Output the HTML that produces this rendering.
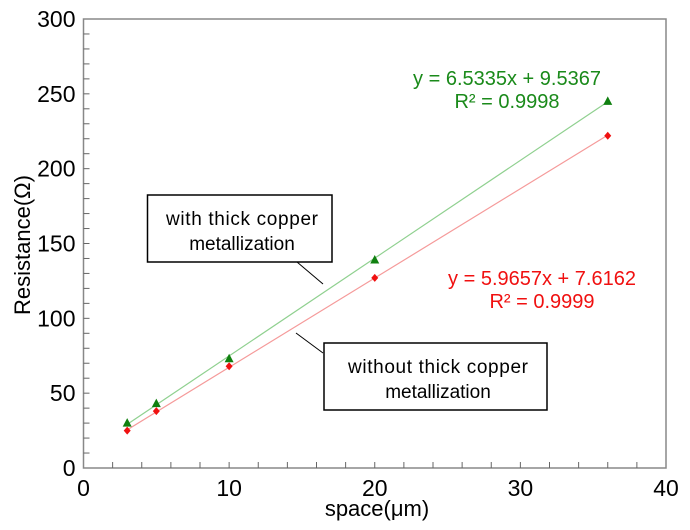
<!DOCTYPE html>
<html><head><meta charset="utf-8"><style>
body{margin:0;background:#fff}
svg{font-family:"Liberation Sans",Arial,sans-serif}
</style></head><body>
<svg id="chart" width="690" height="525">
<g id="axes"></g><g id="marks"></g>
<rect x="147.5" y="195" width="184.5" height="67" fill="#fff" stroke="#000" stroke-width="1.5"/>
<text x="242" y="225" font-size="19" text-anchor="middle" textLength="152">with thick copper</text>
<text x="242" y="250" font-size="19" text-anchor="middle">metallization</text>
<line x1="297" y1="262" x2="323" y2="284" stroke="#000"/>
<rect x="324" y="343" width="223" height="67" fill="#fff" stroke="#000" stroke-width="1.5"/>
<text x="438" y="373" font-size="19" text-anchor="middle" textLength="180">without thick copper</text>
<text x="438" y="398" font-size="19" text-anchor="middle">metallization</text>
<line x1="296" y1="333" x2="323" y2="353" stroke="#000"/>
<text x="507" y="85" font-size="20" fill="#1a8a1a" text-anchor="middle">y = 6.5335x + 9.5367</text>
<text x="507" y="108" font-size="20" fill="#1a8a1a" text-anchor="middle">R² = 0.9998</text>
<text x="542" y="285" font-size="20" fill="#f01010" text-anchor="middle">y = 5.9657x + 7.6162</text>
<text x="542" y="308" font-size="20" fill="#f01010" text-anchor="middle">R² = 0.9999</text>
<text x="377" y="516" font-size="22" text-anchor="middle">space(μm)</text>
<text transform="translate(30,245) rotate(-90)" font-size="22" text-anchor="middle">Resistance(Ω)</text>
</svg>
<script>
const xs=[3,5,10,20,36];
const withCu=[30,43,73,139,245];
const withoutCu=[25,38,68,127,222];
const fitWith=[6.5335,9.5367];
const fitWithout=[5.9657,7.6162];
const xTicks=[0,10,20,30,40];
const yTicks=[0,50,100,150,200,250,300];
const L=83.5,R=666,T=19,B=468;
const X=v=>L+(v/40)*(R-L), Y=v=>B-(v/300)*(B-T);
const NS="http://www.w3.org/2000/svg";
const ax=document.getElementById('axes'),mk=document.getElementById('marks');
function el(p,t,a){const e=document.createElementNS(NS,t);for(const k in a)e.setAttribute(k,a[k]);p.appendChild(e);return e;}
const fr=el(ax,'rect',{x:L,y:T,width:R-L,height:B-T,fill:'none',stroke:'#888','stroke-width':1.5});


for(let v=2;v<40;v+=2){const l=el(ax,'line',{x1:X(v),x2:X(v),y1:B,y2:B-6,stroke:'#666'});

}
for(let v=10;v<300;v+=10){const l=el(ax,'line',{x1:L,x2:L+6,y1:Y(v),y2:Y(v),stroke:'#666'});

}
xTicks.forEach(v=>{const t=el(ax,'text',{x:X(v),y:B+28,'font-size':23,'text-anchor':'middle'});t.textContent=v;

});
yTicks.forEach(v=>{const t=el(ax,'text',{x:L-8,y:Y(v)+8,'font-size':23,'text-anchor':'end'});t.textContent=v;

});
function fit(f,c,n){const l=el(mk,'line',{x1:X(xs[0]),y1:Y(f[0]*xs[0]+f[1]),x2:X(xs[xs.length-1]),y2:Y(f[0]*xs[xs.length-1]+f[1]),stroke:c,'stroke-width':1.2});

}
fit(fitWith,'#8fd08f','trendline-with-copper');
fit(fitWithout,'#f59a9a','trendline-without-copper');
xs.forEach((x,i)=>{const cx=X(x),cy=Y(withCu[i]);
const p=el(mk,'polygon',{points:`${cx},${cy-5} ${cx-4.5},${cy+3.5} ${cx+4.5},${cy+3.5}`,fill:'#108010'});


const dx=X(x),dy=Y(withoutCu[i]);
const d=el(mk,'polygon',{points:`${dx},${dy-4} ${dx+3.5},${dy} ${dx},${dy+4} ${dx-3.5},${dy}`,fill:'#f01010'});

});
</script>
</body></html>
